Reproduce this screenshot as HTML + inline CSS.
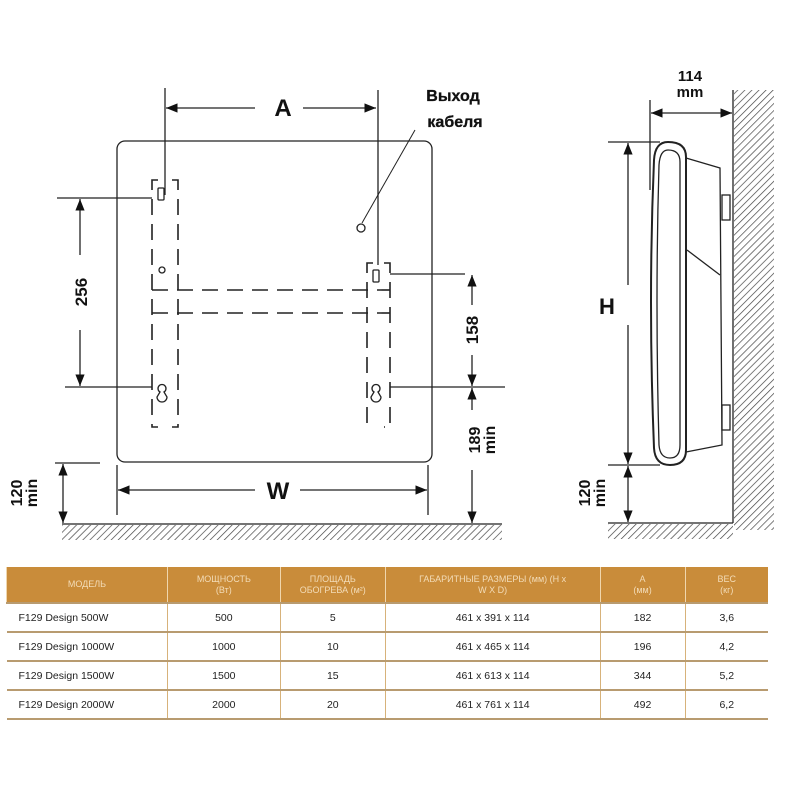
<!DOCTYPE html>
<html><head><meta charset="utf-8"><style>
body{margin:0;background:#fff;width:800px;height:800px;overflow:hidden}
svg{position:absolute;left:0;top:0}
table{position:absolute;left:6px;top:567px;width:762px;border-collapse:collapse;font-family:"Liberation Sans",sans-serif;font-size:10.5px;color:#222}
td{border-left:1px solid #d7b27a;text-align:center;height:27px;padding:0}
td:first-child{border-left:none;text-align:left;padding-left:12px}
tr{border-bottom:2px solid #b89b70}
tr.h td{background:#c98c3a;color:#f3dcb8;height:35px;font-size:9px;line-height:11px;border-left:1px solid #f0d6ad}
tr.h td:first-child{text-align:center;padding-left:0}
</style></head><body>
<svg width="800" height="800" viewBox="0 0 800 800" font-family="Liberation Sans, DejaVu Sans, sans-serif">
<defs>
<pattern id="h" width="5" height="5" patternUnits="userSpaceOnUse" patternTransform="rotate(45)"><line x1="0" y1="0" x2="0" y2="5" stroke="#444" stroke-width="1.4"/></pattern>
<marker id="a" viewBox="0 0 10 10" refX="10" refY="5" markerWidth="9" markerHeight="9" orient="auto-start-reverse"><path d="M0,1 L10,5 L0,9 z" fill="#111"/></marker>
</defs>
<g stroke="#222" fill="none" stroke-width="1.3">
<rect x="117" y="141" width="315" height="321" rx="8"/>
<line x1="62" y1="524" x2="502" y2="524"/>
<rect x="62" y="525" width="440" height="15" fill="url(#h)" stroke="none"/>
<g stroke-dasharray="16,9" stroke-width="1.6">
<path d="M158,180 H152 V427 H158"/><path d="M172,180 H178 V427 H172"/>
<path d="M373,263 H367 V427"/><path d="M384,263 H390 V427 H384"/>
<line x1="152" y1="290" x2="390" y2="290"/><line x1="152" y1="313" x2="390" y2="313"/>
</g>
<rect x="158" y="188" width="6" height="12" rx="1"/><rect x="373" y="270" width="6" height="12" rx="1"/>
<circle cx="162" cy="270" r="3"/><circle cx="361" cy="228" r="4"/>
<path d="M160,392 a4,4 0 1,1 4,0 l3,5 a5,5 0 1,1 -10,0 z"/>
<path d="M374,392 a4,4 0 1,1 4,0 l3,5 a5,5 0 1,1 -10,0 z"/>
<line x1="165" y1="88" x2="165" y2="195"/><line x1="378" y1="90" x2="378" y2="265"/>
<line x1="166" y1="108" x2="255" y2="108" marker-start="url(#a)"/><line x1="303" y1="108" x2="376" y2="108" marker-end="url(#a)"/>
<line x1="57" y1="198" x2="152" y2="198"/><line x1="65" y1="387" x2="152" y2="387"/>
<line x1="80" y1="199" x2="80" y2="255" marker-start="url(#a)"/><line x1="80" y1="330" x2="80" y2="386" marker-end="url(#a)"/>
<line x1="390" y1="274" x2="465" y2="274"/><line x1="390" y1="387" x2="505" y2="387"/>
<line x1="472" y1="275" x2="472" y2="305" marker-start="url(#a)"/><line x1="472" y1="355" x2="472" y2="386" marker-end="url(#a)"/>
<line x1="472" y1="388" x2="472" y2="410" marker-start="url(#a)"/><line x1="472" y1="470" x2="472" y2="523" marker-end="url(#a)"/>
<line x1="117" y1="465" x2="117" y2="515"/><line x1="428" y1="465" x2="428" y2="515"/>
<line x1="118" y1="490" x2="255" y2="490" marker-start="url(#a)"/><line x1="300" y1="490" x2="427" y2="490" marker-end="url(#a)"/>
<line x1="55" y1="463" x2="100" y2="463"/>
<line x1="63" y1="464" x2="63" y2="523" marker-start="url(#a)" marker-end="url(#a)"/>
<line x1="415" y1="130" x2="362" y2="223" stroke-width="1"/>
<line x1="733" y1="90" x2="733" y2="523"/>
<rect x="734" y="90" width="40" height="440" fill="url(#h)" stroke="none"/>
<line x1="608" y1="523" x2="733" y2="523"/>
<rect x="608" y="524" width="125" height="15" fill="url(#h)" stroke="none"/>
<path d="M668,142 Q655,142 654,160 Q648,300 654,448 Q655,465 670,465 Q686,465 686,450 L686,157 Q686,142 668,142 z" stroke-width="2"/>
<path d="M668,150 Q660,150 659,165 Q655,300 659,445 Q660,458 670,458 Q680,458 680,445 L680,162 Q680,150 668,150 z"/>
<path d="M686,158 L720,168 L722,445 L686,452"/>
<path d="M687,250 L720,275"/><rect x="722" y="195" width="8" height="25"/><rect x="722" y="405" width="8" height="25"/>
<line x1="650" y1="100" x2="650" y2="190"/>
<line x1="651" y1="113" x2="732" y2="113" marker-start="url(#a)" marker-end="url(#a)"/>
<line x1="608" y1="142" x2="660" y2="142"/><line x1="608" y1="465" x2="660" y2="465"/>
<line x1="628" y1="143" x2="628" y2="285" marker-start="url(#a)"/><line x1="628" y1="325" x2="628" y2="464" marker-end="url(#a)"/>
<line x1="628" y1="466" x2="628" y2="522" marker-start="url(#a)" marker-end="url(#a)"/>
</g>
<g fill="#111" font-weight="bold">
<text x="283" y="116" font-size="24" text-anchor="middle">A</text>
<text x="278" y="499" font-size="24" text-anchor="middle">W</text>
<text x="607" y="314" font-size="22" text-anchor="middle">H</text>
<text x="453" y="101" font-size="16" text-anchor="middle" stroke="#111" stroke-width="0.3">Выход</text>
<text x="455" y="127" font-size="16" text-anchor="middle" stroke="#111" stroke-width="0.3">кабеля</text>
<text x="690" y="81" font-size="15" text-anchor="middle">114</text>
<text x="690" y="97" font-size="15" text-anchor="middle">mm</text>
<text transform="translate(87,292) rotate(-90)" font-size="17" text-anchor="middle">256</text>
<text transform="translate(478,330) rotate(-90)" font-size="17" text-anchor="middle">158</text>
<text transform="translate(480,440) rotate(-90)" font-size="16" text-anchor="middle">189</text>
<text transform="translate(495,440) rotate(-90)" font-size="16" text-anchor="middle">min</text>
<text transform="translate(22,493) rotate(-90)" font-size="16" text-anchor="middle">120</text>
<text transform="translate(37,493) rotate(-90)" font-size="16" text-anchor="middle">min</text>
<text transform="translate(590,493) rotate(-90)" font-size="16" text-anchor="middle">120</text>
<text transform="translate(605,493) rotate(-90)" font-size="16" text-anchor="middle">min</text>
</g>
</svg>
<table>
<colgroup><col style="width:161px"><col style="width:113px"><col style="width:105px"><col style="width:215px"><col style="width:85px"><col style="width:83px"></colgroup>
<tr class="h"><td>МОДЕЛЬ</td><td>МОЩНОСТЬ<br>(Вт)</td><td>ПЛОЩАДЬ<br>ОБОГРЕВА (м²)</td><td>ГАБАРИТНЫЕ РАЗМЕРЫ (мм) (Н x<br>W X D)</td><td>A<br>(мм)</td><td>ВЕС<br>(кг)</td></tr>
<tr><td>F129 Design 500W</td><td>500</td><td>5</td><td>461 x 391 x 114</td><td>182</td><td>3,6</td></tr>
<tr><td>F129 Design 1000W</td><td>1000</td><td>10</td><td>461 x 465 x 114</td><td>196</td><td>4,2</td></tr>
<tr><td>F129 Design 1500W</td><td>1500</td><td>15</td><td>461 x 613 x 114</td><td>344</td><td>5,2</td></tr>
<tr><td>F129 Design 2000W</td><td>2000</td><td>20</td><td>461 x 761 x 114</td><td>492</td><td>6,2</td></tr>
</table>
</body></html>
